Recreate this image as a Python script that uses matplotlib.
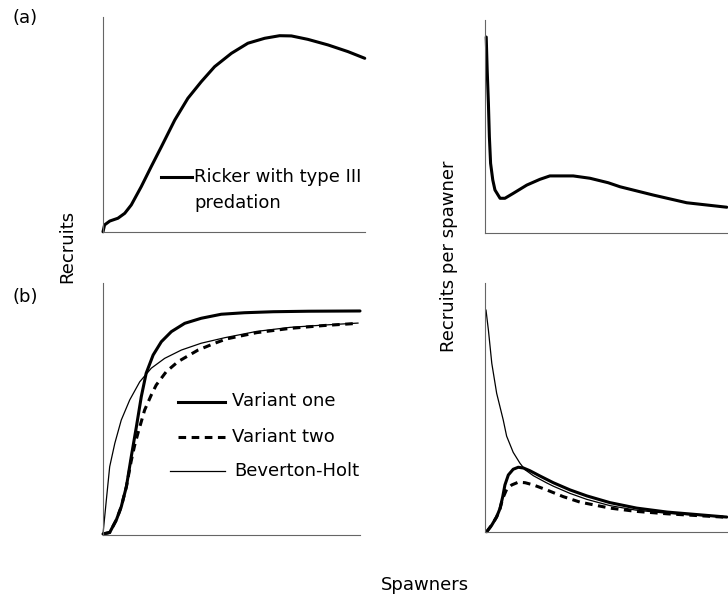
import matplotlib
matplotlib.use("Agg")
from matplotlib import pyplot as plt

plt.rcParams['font.family'] = ['DejaVu Sans']

# (a) Ricker with type III predation -- recruits
ricker_x = [0, 0.6, 2.6, 5.7, 8.3, 10.8, 14.6, 18.4, 22.3, 27.4, 32.4, 37.5, 42.6, 49.0, 55.3, 61.7, 67.4, 71.9, 78.2, 85.9, 93.5, 99.9]
ricker_y = [0.1, 3.3, 5.1, 6.4, 8.7, 12.6, 21.1, 30.4, 39.7, 52.1, 62.2, 69.9, 76.9, 83.1, 87.8, 90.1, 91.3, 91.2, 89.6, 87.0, 83.9, 80.8]

# (a) recruits per spawner
ricker_rps_x = [0.5, 0.9, 1.4, 1.8, 2.3, 3.2, 4.1, 6.2, 8.2, 11.6, 17.2, 22.6, 26.7, 36.3, 43.2, 50.7, 55.6, 69.3, 83.0, 99.5]
ricker_rps_y = [92.0, 76.5, 60.9, 45.2, 32.7, 24.9, 20.2, 16.3, 16.3, 18.6, 22.5, 25.2, 26.8, 26.8, 25.7, 23.6, 21.7, 17.8, 14.2, 12.1]

# (b) recruits
v1_x = [0, 2.6, 5.2, 7.1, 9.1, 11.0, 13.0, 14.9, 16.8, 19.5, 22.7, 26.6, 31.8, 38.2, 46.0, 55.0, 66.3, 80.0, 100]
v1_y = [0.4, 1.0, 6.0, 11.2, 19.2, 31.1, 43.0, 54.9, 64.2, 71.4, 76.7, 80.7, 84.0, 86.0, 87.6, 88.2, 88.6, 88.8, 88.9]
v2_x = [0, 2.6, 5.2, 7.1, 9.1, 11.0, 12.3, 13.6, 16.2, 18.8, 20.7, 24.6, 29.2, 37.0, 43.5, 48.0, 59.8, 72.8, 85.7, 99.3]
v2_y = [0.4, 1.0, 6.0, 11.2, 19.2, 29.5, 35.5, 40.4, 49.6, 55.6, 59.5, 64.8, 68.8, 73.4, 76.1, 77.8, 80.3, 82.0, 83.1, 84.0]
bh_x = [0, 1.3, 2.6, 4.6, 7.1, 10.4, 14.3, 18.8, 24.0, 30.5, 38.2, 47.4, 59.8, 72.8, 85.7, 99.3]
bh_y = [0.4, 13.9, 27.1, 36.4, 45.6, 53.6, 60.8, 66.2, 70.1, 73.4, 76.1, 78.3, 80.8, 82.4, 83.3, 84.1]

# (b) recruits per spawner
v1_rps_x = [0.7, 2.8, 4.8, 6.2, 7.3, 8.2, 9.6, 11.6, 13.7, 15.8, 18.5, 22.6, 28.1, 35.0, 41.9, 51.4, 62.4, 75.0, 99.5]
v1_rps_y = [0.1, 2.8, 6.1, 9.5, 14.2, 18.9, 22.9, 25.2, 26.0, 25.7, 24.6, 22.5, 19.8, 16.9, 14.5, 11.8, 9.6, 8.0, 6.0]
v2_rps_x = [0.7, 2.8, 4.8, 6.2, 7.3, 8.9, 11.0, 13.7, 16.5, 19.9, 25.4, 32.2, 39.1, 51.4, 62.0, 75.0, 99.5]
v2_rps_y = [0.1, 2.8, 6.1, 9.5, 13.5, 17.1, 18.9, 20.0, 19.8, 18.9, 16.9, 14.2, 12.0, 9.6, 8.3, 7.3, 5.9]
bh_rps_x = [0.4, 1.4, 2.8, 4.8, 7.5, 8.9, 11.6, 14.4, 16.5, 19.9, 25.4, 28.1, 35.0, 41.9, 51.4, 62.0, 75.0, 99.5]
bh_rps_y = [89.2, 81.1, 67.7, 55.7, 45.0, 38.5, 32.0, 27.6, 25.0, 22.6, 19.7, 18.4, 15.5, 13.1, 10.6, 8.8, 7.5, 5.9]

W, H = 728, 598


def panel(fig, l, t, r, b):
    ax = fig.add_axes([l/W, 1-b/H, (r-l)/W, (b-t)/H])
    ax.set_xlim(0, 100)
    ax.set_ylim(0, 100)
    for s in ['top', 'right']:
        ax.spines[s].set_visible(False)
    for s in ['left', 'bottom']:
        ax.spines[s].set_color('#666666')
        ax.spines[s].set_linewidth(0.8)
    ax.set_xticks([])
    ax.set_yticks([])
    ax.patch.set_alpha(0)
    return ax


def fx(px):
    return px / W


def fy(py):
    return 1 - py / H


fig = plt.figure(figsize=(7.28, 5.98), dpi=100)

thick = 2.2
thin = 0.9
dash = (0, (2.5, 1.8))
kw = dict(color='black', clip_on=False, solid_joinstyle='round', solid_capstyle='round')

ax1 = panel(fig, 103, 17, 365, 232)
ax1.plot(ricker_x, ricker_y, lw=thick, **kw)

ax2 = panel(fig, 485, 20, 728, 233)
ax2.plot(ricker_rps_x, ricker_rps_y, lw=thick, **kw)

ax3 = panel(fig, 103, 283, 360, 535)
ax3.plot(bh_x, bh_y, lw=thin, **kw)
ax3.plot(v1_x, v1_y, lw=thick, **kw)
ax3.plot(v2_x, v2_y, lw=thick, ls=dash, color='black', clip_on=False)

ax4 = panel(fig, 485, 283, 728, 532)
ax4.plot(bh_rps_x, bh_rps_y, lw=thin, **kw)
ax4.plot(v1_rps_x, v1_rps_y, lw=thick, **kw)
ax4.plot(v2_rps_x, v2_rps_y, lw=thick, ls=dash, color='black', clip_on=False)

# legend entries drawn by hand
fs = 13
fig.add_artist(plt.Line2D([fx(161), fx(192)], [fy(177), fy(177)], color='black', lw=thick))
fig.text(fx(194), fy(177), 'Ricker with type III', fontsize=fs, va='center', ha='left')
fig.text(fx(194), fy(203), 'predation', fontsize=fs, va='center', ha='left')

fig.add_artist(plt.Line2D([fx(178), fx(225)], [fy(401.5), fy(401.5)], color='black', lw=thick))
fig.text(fx(232), fy(401.5), 'Variant one', fontsize=fs, va='center', ha='left')
fig.add_artist(plt.Line2D([fx(178), fx(225)], [fy(436.5), fy(436.5)], color='black', lw=thick, ls=dash))
fig.text(fx(232), fy(436.5), 'Variant two', fontsize=fs, va='center', ha='left')
fig.add_artist(plt.Line2D([fx(170), fx(225)], [fy(470.5), fy(470.5)], color='black', lw=thin))
fig.text(fx(234), fy(470.5), 'Beverton-Holt', fontsize=fs, va='center', ha='left')

fig.text(fx(12), fy(18), '(a)', fontsize=fs, va='center', ha='left')
fig.text(fx(12), fy(297), '(b)', fontsize=fs, va='center', ha='left')
fig.text(fx(67), fy(246), 'Recruits', fontsize=fs, rotation=90, va='center', ha='center')
fig.text(fx(449), fy(256), 'Recruits per spawner', fontsize=fs, rotation=90, va='center', ha='center')
fig.text(fx(425), fy(585), 'Spawners', fontsize=fs, va='center', ha='center')

plt.savefig('out.png', dpi=100)
